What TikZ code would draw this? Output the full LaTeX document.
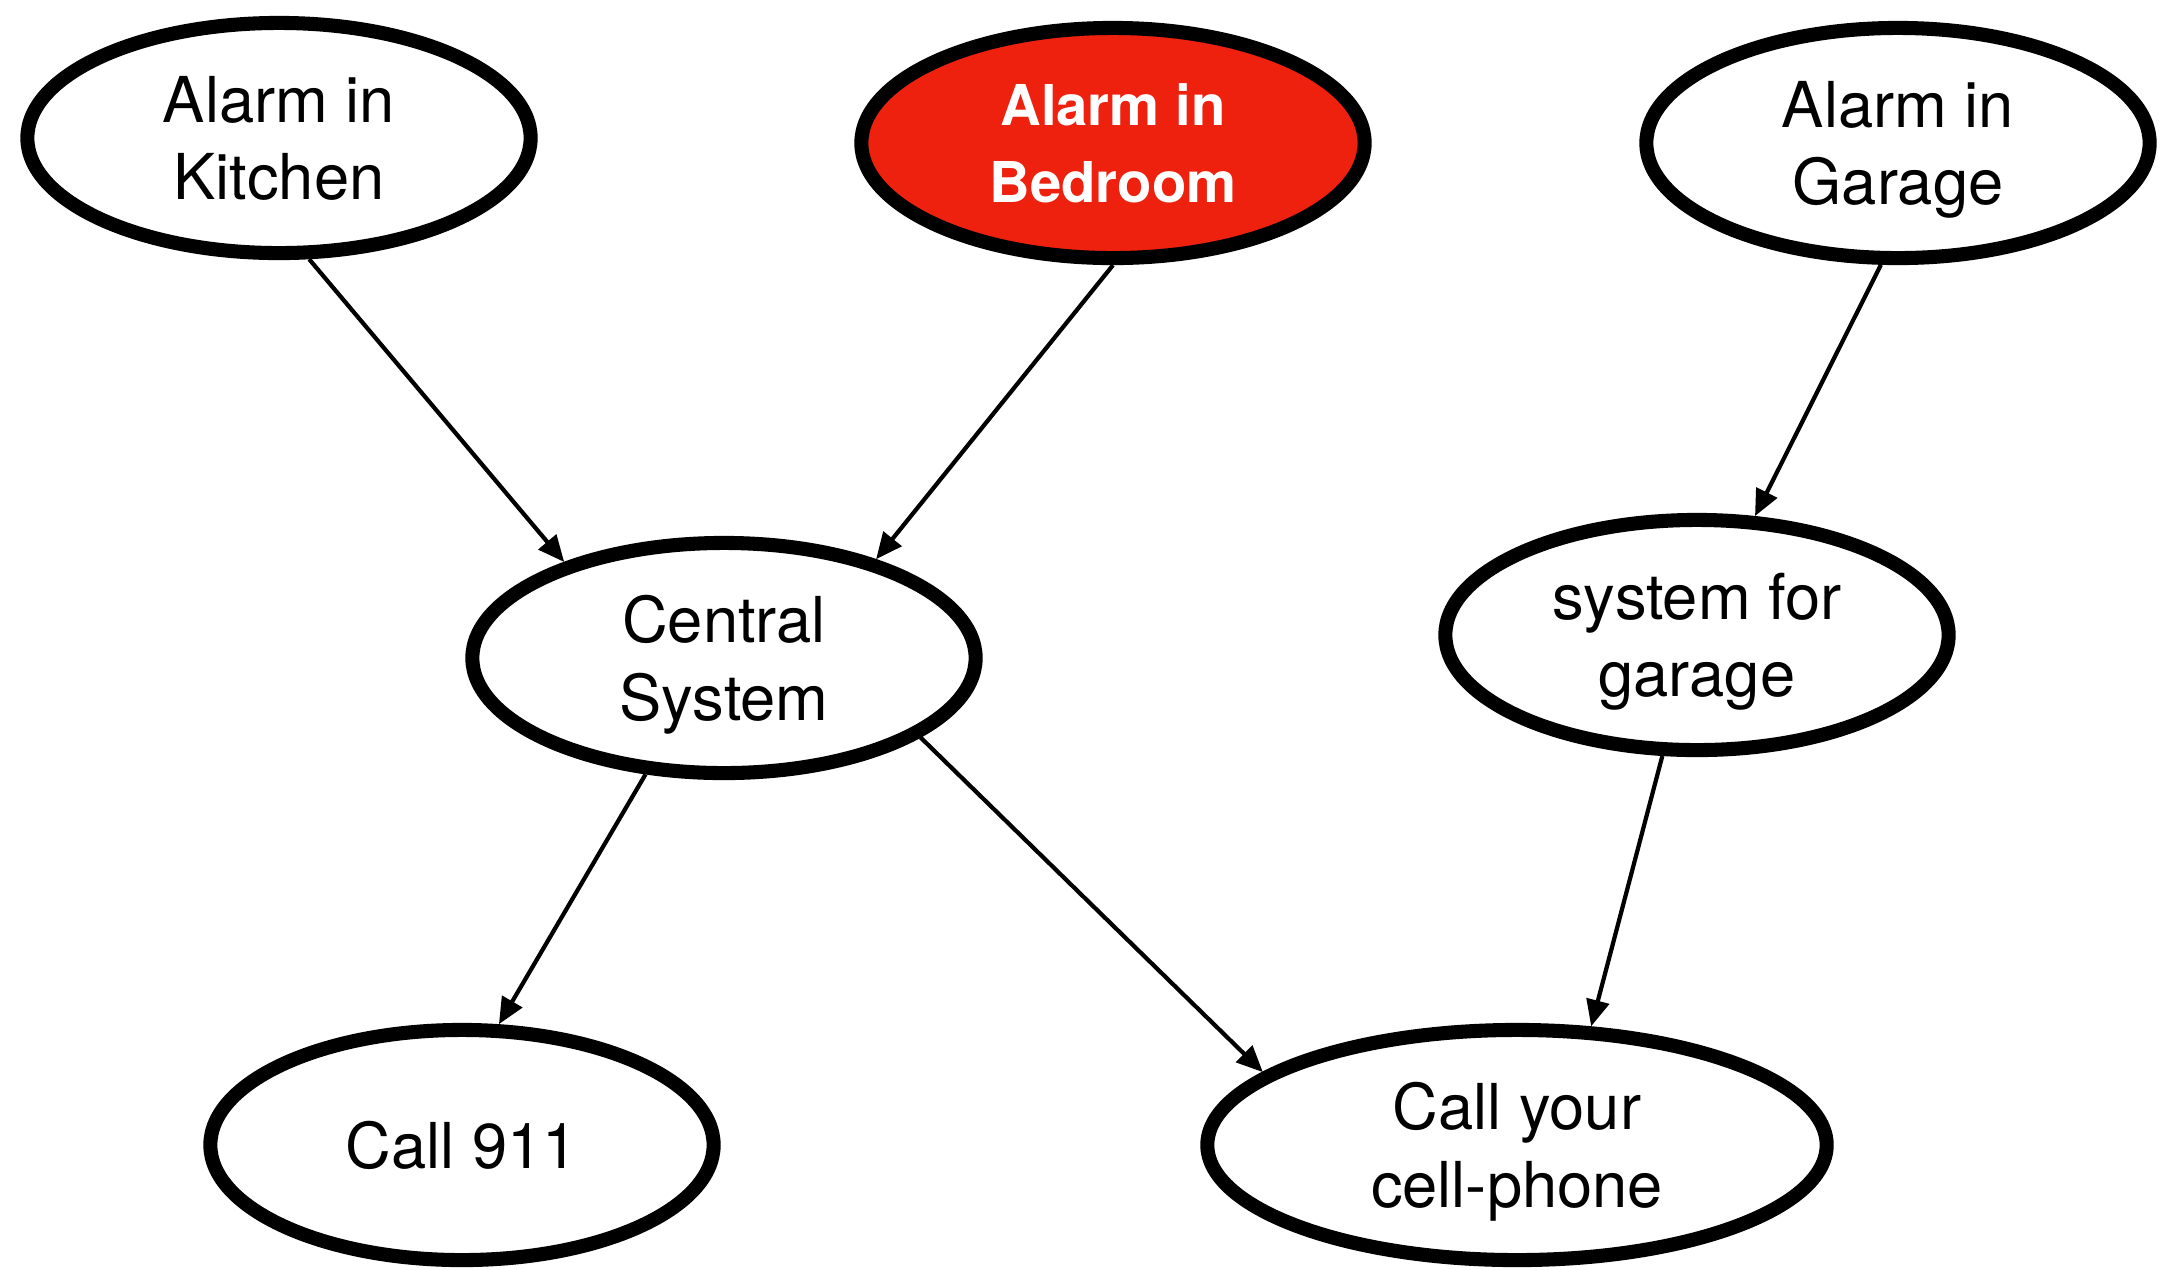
\documentclass[tikz,border=0pt]{standalone}
\usepackage{fontspec}
\setmainfont{TeX Gyre Heros}
\usetikzlibrary{shapes.geometric,arrows.meta}
\definecolor{alarmred}{RGB}{238,33,15}

\begin{document}
\begin{tikzpicture}
        [
            x = 0.01cm, y = -0.01cm,
            event/.style = {ellipse, draw, line width = 4pt, minimum width = 5.03cm, minimum height = 2.3cm, align = center, text depth = 0pt, font = \fontsize{18}{22}\selectfont},
            alarm/.style = {event, fill = alarmred, text = white, font = \fontsize{16}{22}\selectfont\bfseries},
            link/.style = {-{Triangle[length = 7.5pt, width = 6.5pt]}, line width = 1.2pt},
        ]
        \useasboundingbox (0, 0) rectangle (2163, 1269);
        \node[event] (kitchen) at (279, 138) {Alarm in\\Kitchen};
        \node[alarm] (bedroom) at (1113, 143) {Alarm in\\Bedroom};
        \node[event] (garage) at (1898, 143) {Alarm in\\Garage};
        \node[event] (central) at (724, 658) {Central\\System};
        \node[event] (garagesys) at (1697, 635) {system for\\garage};
        \node[event] (police) at (462, 1145) {Call 911};
        \node[event, minimum width = 6.19cm] (phone) at (1517, 1145) {Call your\\cell-phone};

        \draw[link] (kitchen.-76) -- (central.149);
        \draw[link] (bedroom.south) -- (central.33);
        \draw[link] (garage.-98) -- (garagesys.64);
        \draw[link] (central.-124) -- (police.73);
        \draw[link] (central.-22) -- (phone.164);
        \draw[link] (garagesys.-106) -- (phone.58);
\end{tikzpicture}
\end{document}
